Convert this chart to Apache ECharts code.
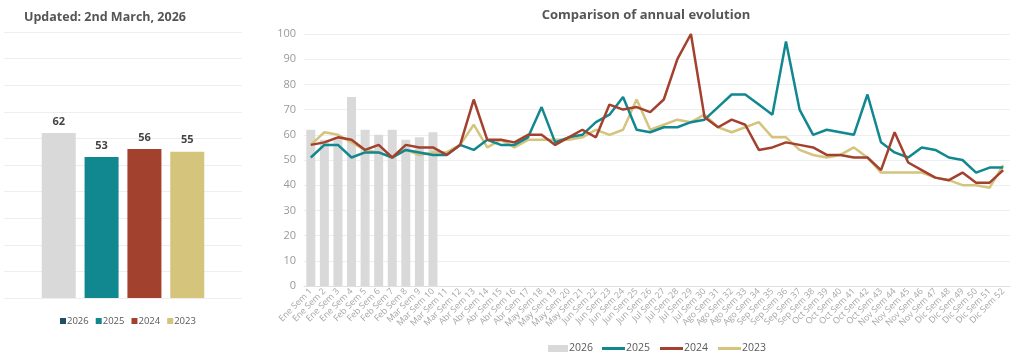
<!DOCTYPE html>
<html>
<head>
<meta charset="utf-8">
<script src="https://cdn.jsdelivr.net/npm/echarts@6/dist/echarts.min.js"></script>
<style>html,body{margin:0;padding:0;background:#fff;}#c{width:1024px;height:359px;}</style>
</head>
<body>
<div id="c"></div>
<script>
var weeks = ["Ene Sem 1","Ene Sem 2","Ene Sem 3","Ene Sem 4","Feb Sem 5","Feb Sem 6","Feb Sem 7","Feb Sem 8","Mar Sem 9","Mar Sem 10","Mar Sem 11","Mar Sem 12","Abr Sem 13","Abr Sem 14","Abr Sem 15","Abr Sem 16","Abr Sem 17","May Sem 18","May Sem 19","May Sem 20","May Sem 21","Jun Sem 22","Jun Sem 23","Jun Sem 24","Jun Sem 25","Jun Sem 26","Jul Sem 27","Jul Sem 28","Jul Sem 29","Jul Sem 30","Ago Sem 31","Ago Sem 32","Ago Sem 33","Ago Sem 34","Sep Sem 35","Sep Sem 36","Sep Sem 37","Sep Sem 38","Oct Sem 39","Oct Sem 40","Oct Sem 41","Oct Sem 42","Oct Sem 43","Nov Sem 44","Nov Sem 45","Nov Sem 46","Nov Sem 47","Dic Sem 48","Dic Sem 49","Dic Sem 50","Dic Sem 51","Dic Sem 52"];
var years = ["2026","2025","2024","2023"];
var averages = [62, 53, 56, 55];
var v2026 = [62,58,59,75,62,60,62,58,59,61];
var v2025 = [51,56,56,51,53,53,51,54,53,52,52,56,54,58,56,56,59,71,57,59,60,65,68,75,62,61,63,63,65,66,71,76,76,72,68,97,70,60,62,61,60,76,57,53,51,55,54,51,50,45,47,47];
var v2024 = [56,57,59,58,54,56,51,56,55,55,52,56,74,58,58,57,60,60,56,59,62,59,72,70,71,69,74,90,100,67,63,66,64,54,55,57,56,55,52,52,51,51,46,61,49,46,43,42,45,41,41,46];
var v2023 = [56,61,60,57,54,53,51,54,52,53,53,56,64,55,58,55,58,58,58,58,59,62,60,62,74,62,64,66,65,68,63,61,63,65,59,59,54,52,51,52,55,51,45,45,45,45,43,42,40,40,39,48];
var yTicks = [0,10,20,30,40,50,60,70,80,90,100];

var colors = {"2026":"#d9d9d9","2025":"#11878f","2024":"#a3412f","2023":"#d4c47c"};
var legendNavy = "#1f4e6b";
var font = "Open Sans";

var chart = echarts.init(document.getElementById('c'), null, {renderer:'canvas'});

var leftSeries = years.map(function(y, i){
  return {
    name: 'L' + y, type: 'bar', xAxisIndex: 0, yAxisIndex: 0,
    barWidth: 34, barGap: '26%',
    itemStyle: {color: colors[y]},
    label: {show: true, position: 'top', distance: 6, fontFamily: font, fontWeight: 'bold', fontSize: 11, color: '#444'},
    data: [averages[i]]
  };
});

var rightSeries = [
  {name:'2026', type:'bar', xAxisIndex:1, yAxisIndex:1, barWidth:9, itemStyle:{color:colors["2026"]}, data:v2026, z:1},
  {name:'2025', type:'line', xAxisIndex:1, yAxisIndex:1, symbol:'none', lineStyle:{width:2.5, color:colors["2025"]}, itemStyle:{color:colors["2025"]}, data:v2025, z:3},
  {name:'2024', type:'line', xAxisIndex:1, yAxisIndex:1, symbol:'none', lineStyle:{width:2.5, color:colors["2024"]}, itemStyle:{color:colors["2024"]}, data:v2024, z:4},
  {name:'2023', type:'line', xAxisIndex:1, yAxisIndex:1, symbol:'none', lineStyle:{width:2.5, color:colors["2023"]}, itemStyle:{color:colors["2023"]}, data:v2023, z:2}
];

var legendText = {fontFamily: font, fontSize: 10.5, color: '#595959', padding: [0,0,0,-4]};

var option = {
  animation: false,
  backgroundColor: '#fff',
  textStyle: {fontFamily: font},
  title: [
    {text: 'Updated: 2nd March, 2026', left: 19, top: 6, textStyle: {fontFamily: font, fontWeight: 'bold', fontSize: 12.5, color: '#555'}},
    {text: 'Comparison of annual evolution', left: 641, textAlign: 'center', top: 4, textStyle: {fontFamily: font, fontWeight: 'bold', fontSize: 13, color: '#555'}}
  ],
  legend: [
    {
      left: 55, top: 311, orient: 'horizontal', icon: 'rect', itemWidth: 6, itemHeight: 6, itemGap: 7,
      textStyle: {fontFamily: font, fontSize: 9.5, color: '#595959', padding: [0,0,0,-4]},
      formatter: function(n){ return n.slice(1); },
      data: years.map(function(y){ return {name: 'L'+y, itemStyle: {color: y === '2026' ? legendNavy : colors[y]}}; })
    },
    {
      left: 543, top: 338, icon: 'rect', itemWidth: 20, itemHeight: 7, itemGap: 10,
      textStyle: legendText,
      data: ['2026']
    },
    {
      left: 597, top: 338, icon: 'rect', itemWidth: 23, itemHeight: 3, itemGap: 10,
      textStyle: legendText,
      data: ['2025', '2024', '2023']
    }
  ],
  grid: [
    {left: 4, right: 782, top: 32, bottom: 61},
    {left: 304, right: 14, top: 34, bottom: 73}
  ],
  xAxis: [
    {type: 'category', gridIndex: 0, data: ['avg'], axisLine: {show: false}, axisTick: {show: false}, axisLabel: {show: false}},
    {type: 'category', gridIndex: 1, data: weeks, axisLine: {show: true, lineStyle: {color: '#e0e0e0'}}, axisTick: {show: false},
     axisLabel: {interval: 0, rotate: 45, fontFamily: font, fontSize: 8.8, color: '#a6a6a6', margin: 4}}
  ],
  yAxis: [
    {type: 'value', gridIndex: 0, min: 0, max: 100, interval: 10, axisLabel: {show: false}, axisLine: {show: false}, axisTick: {show: false},
     splitLine: {lineStyle: {color: '#eeeeee'}}},
    {type: 'value', gridIndex: 1, min: yTicks[0], max: yTicks[yTicks.length-1], interval: 10, axisLine: {show: false}, axisTick: {show: false},
     axisLabel: {fontFamily: font, fontSize: 11, color: '#999999', margin: 8},
     splitLine: {lineStyle: {color: '#eeeeee'}}}
  ],
  series: leftSeries.concat(rightSeries)
};
chart.setOption(option);
</script>
</body>
</html>
